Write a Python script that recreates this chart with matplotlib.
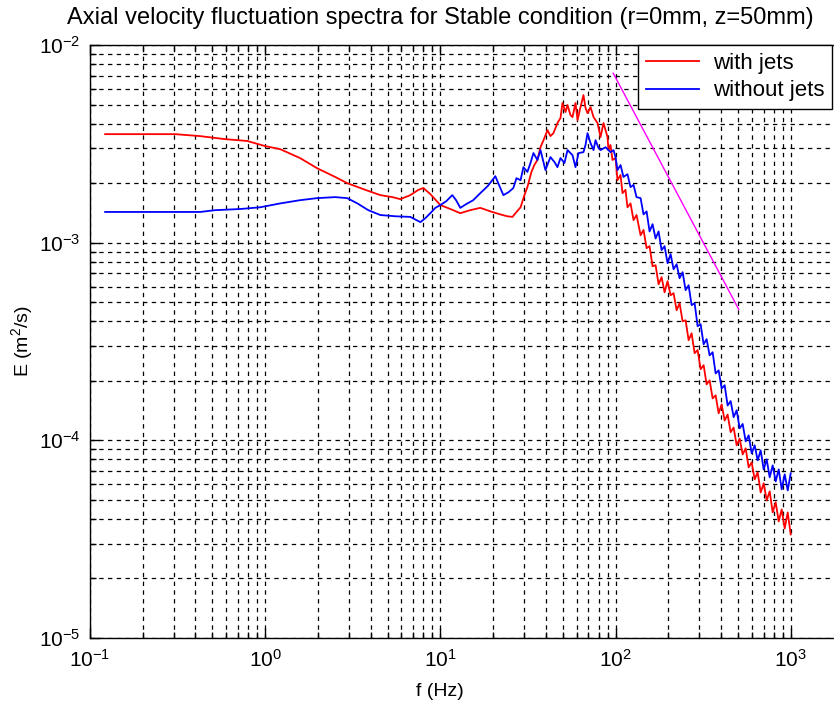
import numpy as np
import matplotlib
matplotlib.use('Agg')
import matplotlib.pyplot as plt
from matplotlib.ticker import LogLocator, NullFormatter

plt.rcParams['font.family'] = ['Liberation Sans', 'DejaVu Sans']
plt.rcParams['mathtext.fontset'] = 'custom'
plt.rcParams['mathtext.rm'] = 'Liberation Sans'
plt.rcParams['mathtext.it'] = 'Liberation Sans:italic'

# spectrum with jets
f_jets = [0.122, 0.193, 0.306, 0.425, 0.590, 0.789, 1.0, 1.22, 1.58, 1.98, 2.51, 2.94, 3.73, 4.54, 5.32,
          5.91, 6.74, 7.49, 8.00, 8.77, 10.0, 11.4, 13.0, 14.8, 16.9, 19.3, 22.0, 24.1, 25.8, 27.2,
          28.7, 30.2, 31.4, 33.1, 34.4, 35.8, 37.3, 38.8, 40.9, 42.5, 44.2, 46.6, 48.5, 49.8, 51.8,
          53.2, 55.3, 56.8, 59.1, 60.7, 63.1, 65.6, 67.4, 69.2, 72.0, 74.9, 78.9, 82.1, 85.4, 87.7,
          90.0, 91.2, 93.6, 96.1, 100.0, 102.6, 106.8, 109.6, 114.0, 117.0, 121.8, 126.7, 131.8,
          139, 144.5, 150.4, 156.4, 162.7, 169.3, 176.1, 183.2, 190.5, 198.2, 206.2, 214.5, 223.2,
          232.1, 241.5, 251.2, 261.3, 271.8, 282.8, 294.2, 306.0, 318.4, 331.1, 344.5, 358.4, 372.8,
          387.8, 403.4, 419.7, 436.5, 454.1, 472.4, 491.4, 511.2, 531.8, 553.3, 575.4, 598.6, 622.7,
          647.8, 673.9, 701.0, 729.3, 758.6, 789.2, 821.0, 854.0, 888.4, 924.2, 961.4, 1000]
E_jets = [3.54e-3, 3.54e-3, 3.54e-3, 3.46e-3, 3.34e-3, 3.27e-3, 3.08e-3, 2.97e-3, 2.68e-3, 2.38e-3,
          2.15e-3, 2.00e-3, 1.85e-3, 1.74e-3, 1.70e-3, 1.66e-3, 1.74e-3, 1.85e-3, 1.89e-3, 1.76e-3,
          1.55e-3, 1.48e-3, 1.41e-3, 1.46e-3, 1.50e-3, 1.44e-3, 1.39e-3, 1.36e-3, 1.35e-3, 1.43e-3,
          1.51e-3, 1.74e-3, 1.91e-3, 2.28e-3, 2.47e-3, 2.62e-3, 3.04e-3, 3.30e-3, 3.71e-3, 3.46e-3,
          3.58e-3, 4.03e-3, 4.27e-3, 5.09e-3, 4.58e-3, 4.97e-3, 4.42e-3, 4.32e-3, 5.09e-3, 4.17e-3,
          4.85e-3, 5.58e-3, 4.80e-3, 4.52e-3, 4.85e-3, 4.32e-3, 4.03e-3, 3.42e-3, 4.03e-3, 3.71e-3,
          3.42e-3, 2.94e-3, 3.12e-3, 2.62e-3, 2.68e-3, 2.07e-3, 2.20e-3, 1.78e-3, 1.85e-3, 1.51e-3,
          1.58e-3, 1.30e-3, 1.38e-3,
          1.09e-3, 1.16e-3, 9.38e-4, 9.60e-4, 7.60e-4, 7.69e-4, 6.16e-4, 6.69e-4, 5.61e-4, 6.39e-4,
          5.42e-4, 5.55e-4, 4.55e-4, 4.94e-4, 4.00e-4, 4.05e-4, 3.21e-4, 3.48e-4, 2.76e-4, 2.86e-4,
          2.29e-4, 2.40e-4, 1.92e-4, 2.01e-4, 1.63e-4, 1.69e-4, 1.37e-4, 1.52e-4, 1.26e-4, 1.35e-4,
          1.10e-4, 1.16e-4, 9.44e-5, 1.02e-4, 8.49e-5, 9.11e-5, 7.30e-5, 7.74e-5, 6.35e-5, 6.89e-5,
          5.45e-5, 6.06e-5, 4.97e-5, 5.52e-5, 4.32e-5, 4.86e-5, 3.89e-5, 4.47e-5, 3.58e-5, 4.32e-5,
          3.34e-5]

# spectrum without jets
f_nojets = [0.122, 0.193, 0.425, 0.518, 0.720, 0.935, 1.22, 1.58, 1.98, 2.51, 2.94, 3.36, 3.88, 4.54,
            5.53, 6.74, 7.69, 8.21, 8.77, 9.36, 10.0, 10.8, 11.7, 12.3, 13.0, 14.1, 15.4, 16.9, 18.6,
            19.8, 20.6, 21.4, 22.9, 24.5, 26.1, 27.2, 28.7, 29.8, 31.4, 32.7, 34.0, 35.8, 37.3, 39.8,
            42.5, 44.8, 46.6, 48.5, 51.1, 53.2, 56.8, 59.1, 61.5, 65.6, 67.4, 69.2, 72.0, 74.9, 76.9,
            80.0, 82.1, 87.7, 93.6, 97.4, 100.0, 102.6, 106.8, 111.0, 117.0, 121.8, 126.7, 131.8,
            139, 144.5, 150.4, 156.4, 162.7, 169.3, 176.1, 183.2, 190.5, 198.2, 206.2, 214.5, 223.2,
            232.1, 241.5, 251.2, 261.3, 271.8, 282.8, 294.2, 306.0, 318.4, 331.1, 344.5, 358.4, 372.8,
            387.8, 403.4, 419.7, 436.5, 454.1, 472.4, 491.4, 511.2, 531.8, 553.3, 575.4, 598.6, 622.7,
            647.8, 673.9, 701.0, 729.3, 758.6, 789.2, 821.0, 854.0, 888.4, 924.2, 961.4, 1000]
E_nojets = [1.43e-3, 1.43e-3, 1.43e-3, 1.46e-3, 1.48e-3, 1.51e-3, 1.58e-3, 1.64e-3, 1.68e-3, 1.70e-3,
            1.68e-3, 1.58e-3, 1.46e-3, 1.38e-3, 1.36e-3, 1.35e-3, 1.27e-3, 1.33e-3, 1.41e-3, 1.50e-3,
            1.55e-3, 1.62e-3, 1.74e-3, 1.64e-3, 1.50e-3, 1.57e-3, 1.64e-3, 1.78e-3, 1.93e-3, 2.07e-3,
            2.17e-3, 2.00e-3, 1.74e-3, 1.80e-3, 1.89e-3, 2.12e-3, 2.07e-3, 2.41e-3, 2.28e-3, 2.53e-3,
            2.84e-3, 2.62e-3, 2.94e-3, 2.33e-3, 2.71e-3, 2.56e-3, 2.41e-3, 2.68e-3, 2.53e-3, 2.94e-3,
            2.77e-3, 2.41e-3, 2.84e-3, 2.87e-3, 3.12e-3, 3.58e-3, 3.19e-3, 2.94e-3, 3.30e-3, 3.01e-3,
            2.94e-3, 3.04e-3, 2.87e-3, 2.94e-3, 2.71e-3, 2.33e-3, 2.47e-3, 2.15e-3, 2.22e-3, 1.91e-3,
            1.96e-3, 1.70e-3,
            1.68e-3, 1.39e-3, 1.44e-3, 1.14e-3, 1.24e-3, 1.05e-3, 1.14e-3, 9.17e-4, 9.60e-4, 7.87e-4,
            8.75e-4, 7.34e-4, 7.78e-4, 6.61e-4, 7.09e-4, 5.75e-4, 6.09e-4, 4.83e-4, 4.94e-4, 3.78e-4,
            3.87e-4, 3.06e-4, 3.25e-4, 2.69e-4, 2.79e-4, 2.18e-4, 2.26e-4, 1.83e-4, 1.90e-4, 1.50e-4,
            1.58e-4, 1.31e-4, 1.42e-4, 1.15e-4, 1.21e-4, 9.88e-5, 1.06e-4, 8.60e-5, 9.44e-5, 7.92e-5,
            8.90e-5, 7.13e-5, 8.01e-5, 6.50e-5, 7.47e-5, 6.20e-5, 7.13e-5, 5.65e-5, 6.73e-5, 5.58e-5,
            6.81e-5]

# -5/3 reference slope
f_slope = [97, 505]
E_slope = [7.2e-3, 4.6e-4]

title_txt = 'Axial velocity fluctuation spectra for Stable condition (r=0mm, z=50mm)'

fig = plt.figure(figsize=(8.34, 7.08), dpi=100)
ax = fig.add_axes([90/834, 70/708, 745/834, 593/708])

ax.loglog(f_jets, E_jets, color='#ff0000', lw=1.3, label='with jets')
ax.loglog(f_nojets, E_nojets, color='#0000ff', lw=1.3, label='without jets')
ax.loglog(f_slope, E_slope, color='#ff00ff', lw=1.0)

ax.set_xlim(0.1, 1790)
ax.set_ylim(1e-5, 1e-2)

ax.xaxis.set_major_locator(LogLocator(base=10, numticks=10))
ax.xaxis.set_minor_locator(LogLocator(base=10, subs=np.arange(2, 10), numticks=20))
ax.yaxis.set_minor_locator(LogLocator(base=10, subs=np.arange(2, 10), numticks=20))
ax.xaxis.set_minor_formatter(NullFormatter())
ax.yaxis.set_minor_formatter(NullFormatter())

ax.grid(True, which='both', color='black', linestyle=(0, (3.5, 3.5)), linewidth=0.9)
ax.tick_params(which='both', direction='in', top=True, right=False, labelsize=15, width=1)
ax.tick_params(which='major', length=7)
ax.tick_params(axis='x', which='major', pad=8)
ax.tick_params(axis='y', which='major', pad=7)
ax.tick_params(which='minor', length=4)
ax.spines['right'].set_visible(False)
for s in ['left', 'bottom', 'top']:
    ax.spines[s].set_linewidth(1.0)

fig.text(440/834, 1 - 18/708, title_txt, ha='center', va='center', fontsize=17)
fig.text(440/834, 1 - 692/708, 'f (Hz)', ha='center', va='center', fontsize=14)
fig.text(22/834, 1 - 341/708, 'E (m$^2$/s)', ha='center', va='center', fontsize=14, rotation=90)

leg = ax.legend(loc='upper right', bbox_to_anchor=(832/834, 663/708), bbox_transform=fig.transFigure,
                fontsize=16, fancybox=False, framealpha=1, edgecolor='black',
                handlelength=2.4, handletextpad=0.6, borderpad=0.35, labelspacing=0.3, borderaxespad=0)
leg.get_frame().set_linewidth(1.0)

fig.savefig('out.png', dpi=100)
